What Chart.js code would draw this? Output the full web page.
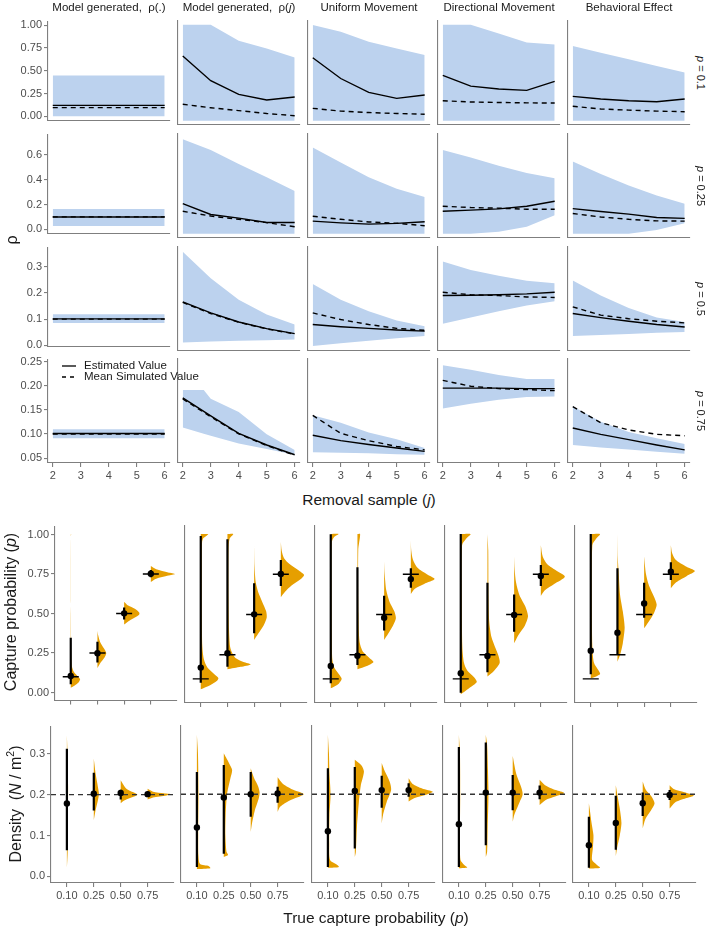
<!DOCTYPE html>
<html><head><meta charset="utf-8">
<script src="https://cdn.jsdelivr.net/npm/chart.js@4.4.0/dist/chart.umd.min.js"></script>
<style>
html,body{margin:0;padding:0;background:#fff;}
body{width:709px;height:928px;position:relative;overflow:hidden;font-family:'Liberation Sans',Arial,Helvetica,sans-serif;}
canvas{position:absolute;}
.t{position:absolute;white-space:nowrap;color:#1a1a1a;line-height:1;}
</style></head><body>
<script>
// ---------------- DATA ----------------
const MODELS = ['Model generated,&nbsp; ρ(.)', 'Model generated,&nbsp; ρ(<i>j</i>)', 'Uniform Movement', 'Directional Movement', 'Behavioral Effect'];
const ROW_LABELS = ['<i>p</i> = 0.1', '<i>p</i> = 0.25', '<i>p</i> = 0.5', '<i>p</i> = 0.75'];
const J = [2, 3, 4, 5, 6];
const J_BAND_R4_C2 = [2, 2.75, 3, 4, 5, 6];

// top grid: estimated (solid), mean simulated (dashed), band upper / lower ; one inner array per model
const EST_R1 = [[0.12,0.12,0.12,0.12,0.12],[0.674,0.417,0.275,0.216,0.247],[0.656,0.44,0.296,0.233,0.268],[0.473,0.361,0.33,0.316,0.41],[0.254,0.226,0.208,0.198,0.226]];
const MEAN_R1 = [[0.095,0.095,0.095,0.095,0.095],[0.171,0.135,0.105,0.075,0.052],[0.129,0.10,0.085,0.075,0.067],[0.208,0.195,0.19,0.186,0.184],[0.15,0.122,0.11,0.10,0.094]];
const HI_R1 = [[0.448,0.448,0.448,0.448,0.448],[1.0,1.0,0.833,0.754,0.66],[0.997,0.927,0.823,0.754,0.684],[1.0,1.0,0.91,0.816,0.796],[0.778,0.71,0.64,0.57,0.504]];
const LO_R1 = [[0,0,0,0,0],[0,0,0,0,0],[0,0,0,0,0],[0,0,0,0,0],[0,0,0,0,0]];

const EST_R2 = [[0.099,0.099,0.099,0.099,0.099],[0.23,0.147,0.119,0.086,0.086],[0.096,0.083,0.073,0.079,0.091],[0.172,0.18,0.19,0.21,0.248],[0.192,0.17,0.15,0.124,0.117]];
const MEAN_R2 = [[0.10,0.10,0.10,0.10,0.10],[0.172,0.135,0.11,0.085,0.053],[0.134,0.11,0.09,0.08,0.061],[0.21,0.20,0.195,0.187,0.187],[0.154,0.128,0.11,0.098,0.096]];
const HI_R2 = [[0.164,0.164,0.164,0.164,0.164],[0.723,0.64,0.533,0.432,0.326],[0.66,0.545,0.432,0.344,0.28],[0.64,0.583,0.52,0.465,0.424],[0.552,0.457,0.369,0.293,0.23]];
const LO_R2 = [[0.026,0.026,0.026,0.026,0.026],[0,0,0,0,0],[0,0,0,0,0],[0,0,0.015,0.053,0.142],[0,0,0,0.028,0.079]];

const EST_R3 = [[0.101,0.101,0.101,0.101,0.101],[0.174,0.134,0.101,0.077,0.059],[0.092,0.084,0.078,0.072,0.068],[0.197,0.198,0.2,0.203,0.209],[0.132,0.117,0.104,0.092,0.083]];
const MEAN_R3 = [[0.10,0.10,0.10,0.10,0.10],[0.172,0.132,0.10,0.076,0.058],[0.134,0.11,0.092,0.078,0.071],[0.209,0.20,0.197,0.192,0.19],[0.156,0.126,0.113,0.104,0.098]];
const HI_R3 = [[0.119,0.119,0.119,0.119,0.119],[0.356,0.26,0.182,0.128,0.092],[0.239,0.182,0.14,0.107,0.086],[0.32,0.29,0.269,0.251,0.242],[0.252,0.197,0.152,0.117,0.101]];
const LO_R3 = [[0.085,0.085,0.085,0.085,0.085],[0.027,0.03,0.033,0.035,0.038],[0.014,0.024,0.033,0.042,0.05],[0.095,0.117,0.14,0.161,0.176],[0.05,0.054,0.058,0.062,0.065]];

const EST_R4 = [[0.101,0.101,0.101,0.101,0.101],[0.174,0.137,0.101,0.077,0.057],[0.097,0.086,0.078,0.071,0.064],[0.194,0.194,0.194,0.193,0.193],[0.112,0.099,0.088,0.077,0.067]];
const MEAN_R4 = [[0.10,0.10,0.10,0.10,0.10],[0.172,0.135,0.10,0.076,0.056],[0.138,0.101,0.086,0.074,0.067],[0.21,0.198,0.193,0.191,0.189],[0.156,0.123,0.108,0.099,0.096]];
const HI_R4 = [[0.11,0.11,0.11,0.11,0.11],[0.19,0.19,0.172,0.145,0.099,0.067],[0.138,0.123,0.103,0.089,0.071],[0.241,0.232,0.221,0.213,0.213],[0.157,0.125,0.104,0.091,0.079]];
const LO_R4 = [[0.091,0.091,0.091,0.091,0.091],[0.113,0.10,0.096,0.08,0.069,0.057],[0.062,0.061,0.06,0.058,0.057],[0.152,0.162,0.17,0.176,0.177],[0.077,0.072,0.068,0.063,0.059]];

const Y_TICKS_TOP = [[0,0.25,0.5,0.75,1.0],[0,0.2,0.4,0.6],[0,0.1,0.2,0.3],[0.05,0.10,0.15,0.20,0.25]];
const Y_LABELS_TOP = [['0.00','0.25','0.50','0.75','1.00'],['0.0','0.2','0.4','0.6'],['0.0','0.1','0.2','0.3'],['0.05','0.10','0.15','0.20','0.25']];

// bottom grid
const CAT_POS = [1, 2, 3, 4];
const P_LABELS = ['0.10', '0.25', '0.50', '0.75'];
const TRUE_P = [0.10, 0.25, 0.50, 0.75];
const TRUE_DENSITY = 0.2;

const P_MEAN = [[0.104,0.248,0.501,0.752],[0.17,0.259,0.501,0.752],[0.18,0.244,0.48,0.72],[0.135,0.242,0.497,0.739],[0.275,0.387,0.569,0.766]];
const P_LO   = [[0.052,0.19,0.462,0.73],[0.076,0.176,0.383,0.677],[0.072,0.186,0.40,0.667],[0.014,0.141,0.393,0.677],[0.128,0.248,0.48,0.714]];
const P_HI   = [[0.346,0.321,0.538,0.775],[0.988,0.967,0.694,0.839],[0.998,0.793,0.617,0.787],[1.0,0.698,0.625,0.807],[1.0,0.787,0.698,0.824]];

const D_MEAN = [[0.178,0.202,0.204,0.201],[0.119,0.192,0.20,0.202],[0.11,0.208,0.21,0.21],[0.127,0.204,0.204,0.204],[0.076,0.13,0.178,0.198]];
const D_LO   = [[0.064,0.161,0.188,0.195],[0.023,0.055,0.145,0.179],[0.023,0.068,0.167,0.194],[0.023,0.076,0.161,0.188],[0.021,0.065,0.147,0.186]];
const D_HI   = [[0.312,0.253,0.212,0.207],[0.254,0.271,0.254,0.218],[0.263,0.266,0.245,0.227],[0.315,0.326,0.247,0.221],[0.145,0.196,0.204,0.21]];

// violin profiles: [value, density half-width (category units)] from bottom to top
const P_VIOLIN = [
 [ [[0.03,0],[0.045,0.15],[0.065,0.3],[0.085,0.35],[0.105,0.25],[0.13,0.12],[0.16,0.05],[0.2,0.025],[0.35,0.012],[0.5,0.006],[0.56,0],[0.99,0],[1.0,0.02],[1.0,0]],
   [[0.155,0],[0.19,0.12],[0.22,0.26],[0.25,0.33],[0.28,0.24],[0.32,0.1],[0.36,0.03],[0.39,0]],
   [[0.43,0],[0.46,0.25],[0.49,0.55],[0.505,0.57],[0.53,0.4],[0.55,0.15],[0.575,0]],
   [[0.70,0],[0.72,0.2],[0.74,0.65],[0.75,0.91],[0.76,0.65],[0.78,0.2],[0.80,0]] ],
 [ [[0.035,0],[0.06,0.35],[0.09,0.62],[0.105,0.66],[0.13,0.5],[0.17,0.25],[0.22,0.12],[0.3,0.06],[0.5,0.04],[0.8,0.04],[0.95,0.05],[0.975,0.1],[0.99,0.22],[1.0,0.28],[1.0,0]],
   [[0.16,0],[0.175,0.5],[0.19,0.87],[0.205,0.6],[0.23,0.3],[0.26,0.18],[0.3,0.1],[0.4,0.06],[0.6,0.04],[0.9,0.04],[0.97,0.08],[1.0,0.22],[1.0,0]],
   [[0.342,0],[0.38,0.15],[0.43,0.35],[0.48,0.47],[0.52,0.45],[0.58,0.3],[0.64,0.15],[0.70,0.06],[0.8,0.015],[0.93,0]],
   [[0.607,0],[0.64,0.15],[0.68,0.4],[0.72,0.75],[0.745,0.87],[0.77,0.7],[0.81,0.35],[0.85,0.12],[0.9,0.03],[0.95,0]] ],
 [ [[0.041,0],[0.07,0.3],[0.1,0.41],[0.13,0.3],[0.17,0.13],[0.22,0.06],[0.35,0.04],[0.7,0.03],[0.95,0.04],[0.98,0.12],[1.0,0.29],[1.0,0]],
   [[0.16,0],[0.18,0.35],[0.205,0.6],[0.23,0.45],[0.27,0.2],[0.33,0.08],[0.5,0.04],[0.9,0.03],[1.0,0.1],[1.0,0]],
   [[0.342,0],[0.38,0.15],[0.43,0.33],[0.476,0.44],[0.52,0.38],[0.58,0.2],[0.65,0.08],[0.75,0.02],[0.83,0]],
   [[0.627,0],[0.66,0.15],[0.69,0.5],[0.72,0.89],[0.75,0.6],[0.79,0.25],[0.84,0.08],[0.9,0.015],[0.96,0]] ],
 [ [[0.004,0],[0.04,0.3],[0.08,0.6],[0.11,0.5],[0.15,0.25],[0.2,0.12],[0.3,0.06],[0.6,0.04],[0.93,0.05],[0.97,0.2],[1.0,0.37],[1.0,0]],
   [[0.114,0],[0.15,0.25],[0.2,0.46],[0.25,0.4],[0.3,0.28],[0.36,0.15],[0.45,0.07],[0.6,0.04],[0.9,0.03],[1.0,0]],
   [[0.321,0],[0.37,0.15],[0.43,0.4],[0.49,0.52],[0.55,0.42],[0.62,0.2],[0.7,0.07],[0.78,0.02],[0.86,0]],
   [[0.615,0],[0.65,0.15],[0.69,0.5],[0.735,0.9],[0.77,0.6],[0.81,0.25],[0.86,0.07],[0.93,0]] ],
 [ [[0.104,0],[0.115,0.2],[0.13,0.35],[0.15,0.3],[0.2,0.12],[0.3,0.06],[0.6,0.04],[0.93,0.06],[0.97,0.2],[1.0,0.35],[1.0,0]],
   [[0.207,0],[0.25,0.1],[0.32,0.2],[0.42,0.27],[0.52,0.2],[0.62,0.1],[0.75,0.05],[0.85,0.015],[1.0,0]],
   [[0.414,0],[0.45,0.15],[0.51,0.37],[0.56,0.47],[0.61,0.37],[0.68,0.18],[0.75,0.07],[0.86,0]],
   [[0.663,0],[0.7,0.2],[0.74,0.6],[0.77,0.9],[0.8,0.55],[0.84,0.18],[0.88,0.05],[0.93,0]] ]
];
const D_VIOLIN = [
 [ [[0.019,0],[0.06,0.03],[0.15,0.04],[0.22,0.045],[0.3,0.025],[0.345,0]],
   [[0.137,0],[0.16,0.06],[0.185,0.15],[0.202,0.19],[0.22,0.15],[0.25,0.07],[0.288,0]],
   [[0.179,0],[0.186,0.15],[0.195,0.5],[0.2,0.62],[0.206,0.45],[0.215,0.2],[0.235,0]],
   [[0.188,0],[0.193,0.2],[0.198,0.7],[0.2,0.94],[0.203,0.6],[0.207,0.2],[0.214,0]] ],
 [ [[0.018,0],[0.02,0.5],[0.025,0.45],[0.03,0.12],[0.05,0.06],[0.1,0.05],[0.2,0.06],[0.3,0.04],[0.345,0]],
   [[0.047,0],[0.052,0.16],[0.06,0.1],[0.1,0.06],[0.15,0.07],[0.2,0.12],[0.24,0.25],[0.259,0.31],[0.275,0.2],[0.29,0.08],[0.30,0]],
   [[0.108,0],[0.13,0.05],[0.16,0.15],[0.19,0.3],[0.205,0.33],[0.22,0.27],[0.24,0.12],[0.263,0]],
   [[0.157,0],[0.17,0.1],[0.185,0.45],[0.2,0.97],[0.21,0.6],[0.225,0.2],[0.241,0]] ],
 [ [[0.021,0],[0.023,0.41],[0.03,0.3],[0.04,0.08],[0.08,0.05],[0.15,0.06],[0.2,0.1],[0.25,0.06],[0.3,0.04],[0.345,0]],
   [[0.047,0],[0.06,0.04],[0.12,0.08],[0.18,0.15],[0.22,0.22],[0.255,0.34],[0.27,0.25],[0.284,0]],
   [[0.129,0],[0.15,0.05],[0.18,0.18],[0.21,0.35],[0.23,0.3],[0.255,0.12],[0.276,0]],
   [[0.182,0],[0.19,0.2],[0.2,0.7],[0.206,0.9],[0.214,0.5],[0.225,0.15],[0.239,0]] ],
 [ [[0.02,0],[0.022,0.31],[0.028,0.2],[0.04,0.06],[0.1,0.04],[0.2,0.05],[0.3,0.04],[0.345,0]],
   [[0.047,0],[0.06,0.05],[0.12,0.07],[0.2,0.1],[0.26,0.08],[0.32,0.05],[0.345,0]],
   [[0.133,0],[0.15,0.06],[0.18,0.25],[0.2,0.37],[0.22,0.3],[0.25,0.13],[0.293,0]],
   [[0.174,0],[0.185,0.2],[0.196,0.65],[0.203,0.91],[0.21,0.6],[0.222,0.2],[0.235,0]] ],
 [ [[0.019,0],[0.021,0.42],[0.028,0.3],[0.04,0.12],[0.07,0.15],[0.1,0.17],[0.13,0.1],[0.16,0.04],[0.178,0]],
   [[0.049,0],[0.07,0.05],[0.1,0.15],[0.13,0.21],[0.16,0.16],[0.19,0.08],[0.222,0]],
   [[0.117,0],[0.14,0.1],[0.16,0.3],[0.178,0.44],[0.195,0.32],[0.21,0.12],[0.231,0]],
   [[0.165,0],[0.18,0.2],[0.19,0.6],[0.197,0.9],[0.205,0.55],[0.213,0.15],[0.222,0]] ]
];

// ---------------- STYLE / LAYOUT ----------------
const FONT = "'Liberation Sans', Arial, Helvetica, sans-serif";
const AXIS = '#7f7f7f';
const BAND = '#BCD2EE';
const ORANGE = '#E69F00';
const TOP_COL_X = [48, 178, 308, 438, 568], TOP_W = 122;
const TOP_ROW_Y = [21, 134, 247, 359], TOP_H = 104;
const TOP_Y_RANGE = [[-0.045, 1.04], [-0.033, 0.763], [-0.004, 0.373], [0.040, 0.254]];
const TOP_X_RANGE = [1.83, 6.19];
const B5_X = [55, 185, 315, 445, 575], B5_W = 122, B5_Y = 526, B5_H = 177;
const B6_X = [51, 181, 312, 443, 573], B6_W = 123, B6_Y = 726, B6_H = 157;
const B_X_RANGE = [0.41, 4.98];
const CROSS_HALF = 0.3;

Chart.defaults.font.family = FONT;

function makeChart(area, pad, datasets, xo, yo) {
  const cv = document.createElement('canvas');
  const W = area.w + pad.l + pad.r, H = area.h + pad.t + pad.b;
  cv.width = W; cv.height = H;
  cv.style.left = (area.x - pad.l) + 'px';
  cv.style.top = (area.y - pad.t) + 'px';
  cv.style.width = W + 'px'; cv.style.height = H + 'px';
  document.body.appendChild(cv);
  const axis = (o, size, isX) => ({
    type: 'linear', position: isX ? 'bottom' : 'left', min: o.min, max: o.max,
    afterFit: s => { if (isX) s.height = size; else s.width = size; },
    afterBuildTicks: s => { s.ticks = (o.ticks || []).map(v => ({ value: v })); },
    ticks: { display: !!o.labels, callback: (v, i) => (o.labels ? o.labels[i] : ''),
      font: { family: FONT, size: 11 }, color: '#4d4d4d', padding: 2, maxRotation: 0, minRotation: 0, autoSkip: false },
    grid: { display: !!o.ticks, drawOnChartArea: false, drawTicks: true, tickLength: 4, color: AXIS, lineWidth: 1.1 },
    border: { display: true, color: AXIS, width: 1.1 }
  });
  return new Chart(cv, {
    type: 'scatter',
    data: { datasets },
    options: {
      responsive: false, animation: false, devicePixelRatio: 1, events: [],
      layout: { padding: { top: pad.t, right: pad.r, left: 0, bottom: 0 } },
      plugins: { legend: { display: false }, tooltip: { enabled: false } },
      scales: { x: axis(xo, pad.b, true), y: axis(yo, pad.l, false) }
    }
  });
}

function txt(html, x, y, size, rot, opts) {
  opts = opts || {};
  const d = document.createElement('div');
  d.className = 't';
  d.innerHTML = html;
  d.style.left = x + 'px'; d.style.top = y + 'px';
  d.style.fontSize = size + 'px';
  d.style.transform = (opts.left ? 'translate(0,-50%)' : 'translate(-50%,-50%)') + (rot ? ' rotate(' + rot + 'deg)' : '');
  if (opts.color) d.style.color = opts.color;
  document.body.appendChild(d);
  return d;
}

// ---------------- TOP GRID ----------------
const EST = [EST_R1, EST_R2, EST_R3, EST_R4];
const MEAN = [MEAN_R1, MEAN_R2, MEAN_R3, MEAN_R4];
const HI = [HI_R1, HI_R2, HI_R3, HI_R4];
const LO = [LO_R1, LO_R2, LO_R3, LO_R4];

const lineDs = (xs, ys, extra) => Object.assign({
  type: 'line', data: xs.map((x, i) => ({ x, y: ys[i] })), borderColor: '#000', borderWidth: 1.4,
  pointRadius: 0, fill: false, tension: 0
}, extra || {});

for (let r = 0; r < 4; r++) {
  for (let c = 0; c < 5; c++) {
    const bx = HI[r][c].length === J_BAND_R4_C2.length ? J_BAND_R4_C2 : J;
    const datasets = [
      lineDs(J, EST[r][c]),
      lineDs(J, MEAN[r][c], { borderDash: [5, 4] }),
      lineDs(bx, HI[r][c], { borderWidth: 0, borderColor: 'rgba(0,0,0,0)', backgroundColor: BAND, fill: 3 }),
      lineDs(bx, LO[r][c], { borderWidth: 0, borderColor: 'rgba(0,0,0,0)' })
    ];
    const area = { x: TOP_COL_X[c], y: TOP_ROW_Y[r], w: TOP_W, h: TOP_H };
    const pad = { l: c === 0 ? TOP_COL_X[0] : 4, t: 8, r: 4, b: r === 3 ? 24 : 4 };
    const xo = { min: TOP_X_RANGE[0], max: TOP_X_RANGE[1] };
    if (r === 3) { xo.ticks = J; xo.labels = J.map(String); }
    const yo = { min: TOP_Y_RANGE[r][0], max: TOP_Y_RANGE[r][1] };
    if (c === 0) { yo.ticks = Y_TICKS_TOP[r]; yo.labels = Y_LABELS_TOP[r]; }
    makeChart(area, pad, datasets, xo, yo);
  }
}

// ---------------- BOTTOM GRID ----------------
function violinDs(cat, prof) {
  return { type: 'line', data: prof.map(([y, w]) => ({ x: cat + w, y })), borderWidth: 0,
    borderColor: 'rgba(0,0,0,0)', backgroundColor: ORANGE, fill: 'shape', tension: 0.25, pointRadius: 0 };
}
function bottomPanel(c, row) {
  const isP = row === 'p';
  const mean = isP ? P_MEAN[c] : D_MEAN[c], lo = isP ? P_LO[c] : D_LO[c], hi = isP ? P_HI[c] : D_HI[c];
  const vio = isP ? P_VIOLIN[c] : D_VIOLIN[c];
  const bars = [];
  CAT_POS.forEach((x, i) => { bars.push({ x, y: lo[i] }, { x, y: hi[i] }, { x, y: null }); });
  const datasets = [
    { type: 'scatter', data: CAT_POS.map((x, i) => ({ x, y: mean[i] })), pointRadius: 3.2, backgroundColor: '#000', borderWidth: 0 },
    { type: 'line', data: bars, borderColor: '#000', borderWidth: 2.2, pointRadius: 0, spanGaps: false, fill: false }
  ];
  if (isP) {
    const cr = [];
    CAT_POS.forEach((x, i) => { cr.push({ x: x - CROSS_HALF, y: TRUE_P[i] }, { x: x + CROSS_HALF, y: TRUE_P[i] }, { x, y: null }); });
    datasets.push({ type: 'line', data: cr, borderColor: '#000', borderWidth: 1.4, pointRadius: 0, spanGaps: false, fill: false });
  } else {
    datasets.push({ type: 'line', data: [{ x: B_X_RANGE[0], y: TRUE_DENSITY }, { x: B_X_RANGE[1], y: TRUE_DENSITY }],
      borderColor: '#333', borderWidth: 1.3, borderDash: [5, 4], pointRadius: 0, fill: false });
  }
  CAT_POS.forEach((x, i) => datasets.push(violinDs(x, vio[i])));
  const area = isP ? { x: B5_X[c], y: B5_Y, w: B5_W, h: B5_H } : { x: B6_X[c], y: B6_Y, w: B6_W, h: B6_H };
  const pad = { l: c === 0 ? area.x - 2 : 4, t: 8, r: 4, b: isP ? 6 : 24 };
  const xo = { min: B_X_RANGE[0], max: B_X_RANGE[1], ticks: CAT_POS };
  if (!isP) xo.labels = P_LABELS;
  const yo = isP ? { min: -0.05, max: 1.05 } : { min: -0.016, max: 0.366 };
  if (c === 0) {
    yo.ticks = isP ? [0, 0.25, 0.5, 0.75, 1.0] : [0, 0.1, 0.2, 0.3];
    yo.labels = isP ? ['0.00', '0.25', '0.50', '0.75', '1.00'] : ['0.0', '0.1', '0.2', '0.3'];
  }
  makeChart(area, pad, datasets, xo, yo);
}
for (let c = 0; c < 5; c++) { bottomPanel(c, 'p'); bottomPanel(c, 'd'); }

// ---------------- TEXT ----------------
MODELS.forEach((m, c) => txt(m, TOP_COL_X[c] + TOP_W / 2, 8, 11.5));
ROW_LABELS.forEach((l, r) => txt(l, 700, TOP_ROW_Y[r] + TOP_H / 2, 11, 90));
txt('ρ', 12, 240, 16, -90);
txt('Removal sample (<i>j</i>)', 369, 500, 15.5);
txt('Capture probability (<i>p</i>)', 11, 612, 16, -90);
txt('Density&nbsp; (<i>N</i> / m<sup style="font-size:0.65em">2</sup>)', 15, 804, 16, -90);
txt('True capture probability (<i>p</i>)', 376, 918, 15.5);

// legend
function legendRow(y, dash, label) {
  const ns = 'http://www.w3.org/2000/svg';
  const svg = document.createElementNS(ns, 'svg');
  svg.setAttribute('width', '16'); svg.setAttribute('height', '6');
  svg.style.position = 'absolute'; svg.style.left = '61px'; svg.style.top = (y - 3) + 'px';
  const ln = document.createElementNS(ns, 'line');
  ln.setAttribute('x1', '1'); ln.setAttribute('x2', '15'); ln.setAttribute('y1', '3'); ln.setAttribute('y2', '3');
  ln.setAttribute('stroke', '#000'); ln.setAttribute('stroke-width', '1.3');
  if (dash) ln.setAttribute('stroke-dasharray', '4 4');
  svg.appendChild(ln);
  document.body.appendChild(svg);
  txt(label, 84, y, 11.5, 0, { left: true });
}
legendRow(366, false, 'Estimated Value');
legendRow(376.7, true, 'Mean Simulated Value');
</script>
</body></html>
